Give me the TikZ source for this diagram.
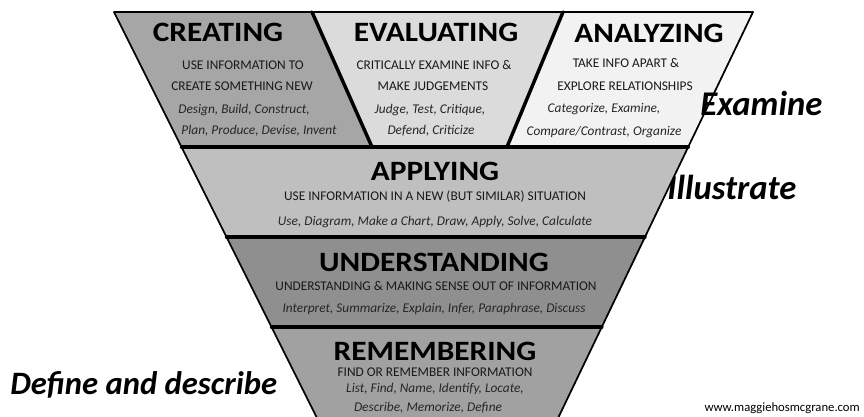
\documentclass[tikz,border=0pt]{standalone}
\usepackage{fontspec}
\setmainfont{Carlito}
\newfontfamily\widefont[FakeStretch=1.12]{Carlito}
\usepackage{tikz}
\usetikzlibrary{positioning,calc}

\definecolor{creategray}{gray}{0.65}
\definecolor{evalgray}{gray}{0.86}
\definecolor{analgray}{gray}{0.95}
\definecolor{applygray}{gray}{0.75}
\definecolor{undergray}{gray}{0.56}
\definecolor{remgray}{gray}{0.63}

\begin{document}
\begin{tikzpicture}[x=0.75pt, y=-0.75pt,
  band/.style={draw=black, line width=1.3pt, line join=round},
  split/.style={line width=2.6pt, black, line cap=round},
  head/.style={font=\widefont\bfseries\fontsize{21}{23}\selectfont, inner sep=0pt},
  info/.style={font=\fontsize{10}{12}\selectfont, inner sep=0pt, text=black!90},
  verbs/.style={font=\itshape\fontsize{10}{12}\selectfont, inner sep=0pt, text=black!85},
  side/.style={font=\bfseries\itshape\fontsize{26}{28}\selectfont, inner sep=0pt, anchor=west},
]
\useasboundingbox (0,0) rectangle (864,417);

% ---- funnel corners: left edge x = 114 + y/2, right edge x = 753 - 0.48 y ----
\coordinate (tl) at (114,12);    \coordinate (tr) at (753,12);
\coordinate (l1) at (181.5,147); \coordinate (r1) at (688.2,147);
\coordinate (l2) at (226.5,237); \coordinate (r2) at (645,237);
\coordinate (l3) at (271.5,327); \coordinate (r3) at (601.8,327);
\coordinate (l4) at (319,422);   \coordinate (r4) at (556.2,422);
\coordinate (s1t) at (312,12);   \coordinate (s1b) at (372,147);
\coordinate (s2t) at (563,12);   \coordinate (s2b) at (507,147);

% ---- label that sits behind the funnel edge ----
\node[side] (illus) at (667,187) {Illustrate};

% ---- bands ----
\fill[applygray, band] (l1) -- (r1) -- (r2) -- (l2) -- cycle;
\fill[undergray, band] (l2) -- (r2) -- (r3) -- (l3) -- cycle;
\fill[remgray, band]   (l3) -- (r3) -- (r4) -- (l4) -- cycle;
\fill[creategray, band] (tl) -- (s1t) -- (s1b) -- (l1) -- cycle;
\fill[evalgray, band]   (s1t) -- (s2t) -- (s2b) -- (s1b) -- cycle;
\fill[analgray, band]   (s2t) -- (tr) -- (r1) -- (s2b) -- cycle;

% ---- thick dividers ----
\draw[split] (s1t) -- (s1b);
\draw[split] (s2t) -- (s2b);
\foreach \k in {1,2,3}
  \draw[split] (l\k) -- (r\k);

% ---- top row ----
\node[head] (create) at (218,32) {CREATING};
\node[info]  (create1) at (243,65)  {USE INFORMATION TO};
\node[info]  (create2) at (242,86)  {CREATE SOMETHING NEW};
\node[verbs] (create3) at (244,110) {Design, Build, Construct,};
\node[verbs] (create4) at (259,131) {Plan, Produce, Devise, Invent};

\node[head] (eval) at (436,32) {EVALUATING};
\node[info]  (eval1) at (434,65)  {CRITICALLY EXAMINE INFO \&};
\node[info]  (eval2) at (433,86)  {MAKE JUDGEMENTS};
\node[verbs] (eval3) at (430,110) {Judge, Test, Critique,};
\node[verbs] (eval4) at (431,131) {Defend, Criticize};

\node[head] (anal) at (649,33) {ANALYZING};
\node[info]  (anal1) at (626,63)  {TAKE INFO APART \&};
\node[info]  (anal2) at (625,86)  {EXPLORE RELATIONSHIPS};
\node[verbs] (anal3) at (604,109) {Categorize, Examine,};
\node[verbs] (anal4) at (604,132) {Compare/Contrast, Organize};

% ---- lower bands ----
\node[head] (apply) at (435,171) {APPLYING};
\node[info]  (apply1) at (435,197) {USE INFORMATION IN A NEW (BUT SIMILAR) SITUATION};
\node[verbs] (apply2) at (435,222) {Use, Diagram, Make a Chart, Draw, Apply, Solve, Calculate};

\node[head] (under) at (434,262) {UNDERSTANDING};
\node[info]  (under1) at (436,286) {UNDERSTANDING \& MAKING SENSE OUT OF INFORMATION};
\node[verbs] (under2) at (434,309) {Interpret, Summarize, Explain, Infer, Paraphrase, Discuss};

\node[head] (remem) at (435,351) {REMEMBERING};
\node[info]  (remem1) at (435,372) {FIND OR REMEMBER INFORMATION};
\node[verbs] (remem2) at (435,389) {List, Find, Name, Identify, Locate,};
\node[verbs] (remem3) at (428,408) {Describe, Memorize, Define};

% ---- side labels ----
\node[side] (exam) at (700,103) {Examine};
\node[side, font=\bfseries\itshape\fontsize{24.5}{27}\selectfont] (defn) at (10,385)
  {Define and describe};
\node[font=\fontsize{9.5}{11}\selectfont, inner sep=0pt, anchor=east] (site) at (860,408)
  {www.maggiehosmcgrane.com};

\end{tikzpicture}
\end{document}
